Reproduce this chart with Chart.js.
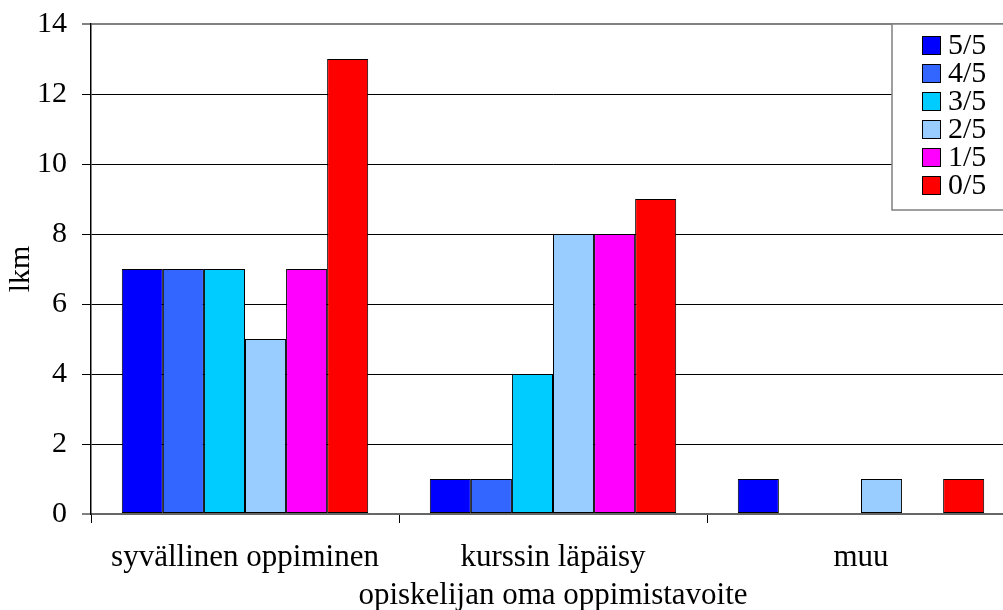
<!DOCTYPE html>
<html>
<head>
<meta charset="utf-8">
<script src="https://cdn.jsdelivr.net/npm/chart.js@4.4.1/dist/chart.umd.min.js"></script>
<style>
  html, body { margin: 0; padding: 0; background: #fff; overflow: hidden; width: 1003px; height: 610px; }
  #wrap { position: absolute; left: 0; top: 0; width: 1016px; height: 610px; }
</style>
</head>
<body>
<div id="wrap"><canvas id="c" width="1016" height="610"></canvas></div>
<script>
const categories = ["syvällinen oppiminen", "kurssin läpäisy", "muu"];
const seriesLabels = ["5/5", "4/5", "3/5", "2/5", "1/5", "0/5"];
const s55 = [7, 1, 1];
const s45 = [7, 1, 0];
const s35 = [7, 4, 0];
const s25 = [5, 8, 1];
const s15 = [7, 8, 0];
const s05 = [13, 9, 1];
const seriesColors = ["#0000FF", "#3366FF", "#00CCFF", "#99CCFF", "#FF00FF", "#FF0000"];
const yTitle = "lkm";
const xTitle = "opiskelijan oma oppimistavoite";

const FONT = "'Liberation Serif', 'Times New Roman', serif";
const seriesValues = [s55, s45, s35, s25, s15, s05];

const datasets = seriesLabels.map((lab, i) => ({
  label: lab,
  data: seriesValues[i],
  backgroundColor: seriesColors[i],
  borderColor: "#000",
  borderWidth: 1,
  borderSkipped: false,
  categoryPercentage: 0.8,
  barPercentage: 1.0
}));

const boxLegend = {
  id: "boxLegend",
  afterDraw(chart) {
    const ctx = chart.ctx;
    const left = 892, top = chart.chartArea.top, right = 1030, bottom = 210;
    ctx.save();
    ctx.fillStyle = "#fff";
    ctx.fillRect(left, top, right - left, bottom - top);
    ctx.strokeStyle = "#808080";
    ctx.lineWidth = 1.5;
    ctx.strokeRect(left, top, right - left, bottom - top);
    ctx.font = "30px " + FONT;
    ctx.textBaseline = "middle";
    ctx.textAlign = "left";
    chart.data.datasets.forEach((ds, i) => {
      const y = 36 + i * 28;
      ctx.fillStyle = ds.backgroundColor;
      ctx.fillRect(922, y, 19, 19);
      ctx.strokeStyle = "#000";
      ctx.lineWidth = 1;
      ctx.strokeRect(922.5, y + 0.5, 18, 18);
      ctx.fillStyle = "#000";
      ctx.fillText(ds.label, 948, y + 10);
    });
    ctx.restore();
  }
};

new Chart(document.getElementById("c"), {
  type: "bar",
  data: { labels: categories, datasets },
  options: {
    responsive: false,
    animation: false,
    layout: { padding: { top: 24, right: 1, left: 0, bottom: 0 } },
    plugins: {
      legend: { display: false },
      tooltip: { enabled: false }
    },
    scales: {
      x: {
        grid: {
          offset: true,
          drawOnChartArea: false,
          drawTicks: true,
          tickLength: 9,
          color: "#000",
          lineWidth: 1
        },
        border: { display: true, color: "#666", width: 2 },
        ticks: {
          color: "#000",
          font: { family: FONT, size: 31 },
          padding: 16,
          maxRotation: 0,
          autoSkip: false
        },
        title: {
          display: true,
          text: xTitle,
          color: "#000",
          font: { family: FONT, size: 31, lineHeight: 1.0 },
          padding: { top: 0, bottom: -1 }
        },
        afterFit(s) { s.height = 96; s.paddingLeft = 0; s.paddingRight = 0; s.paddingTop = 0; s.paddingBottom = 0; }
      },
      y: {
        min: 0,
        max: 14,
        ticks: {
          stepSize: 2,
          color: "#000",
          font: { family: FONT, size: 30 },
          padding: 15
        },
        grid: {
          color: (c) => (c.tick && (c.tick.value === 0 || c.tick.value === 14)) ? "#808080" : "#000",
          lineWidth: (c) => (c.tick && (c.tick.value === 0 || c.tick.value === 14)) ? 2 : 1,
          tickLength: 9
        },
        border: { display: true, color: "#000", width: 1.5 },
        title: {
          display: true,
          text: yTitle,
          color: "#000",
          font: { family: FONT, size: 30 },
          padding: { top: 3, bottom: 0 }
        },
        afterFit(s) { s.width = 91; s.paddingTop = 0; s.paddingBottom = 0; s.paddingLeft = 0; s.paddingRight = 0; }
      }
    }
  },
  plugins: [boxLegend]
});
</script>
</body>
</html>
